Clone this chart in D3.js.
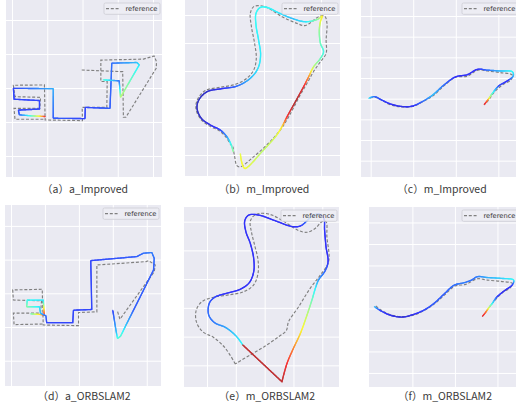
<!DOCTYPE html>
<html><head><meta charset="utf-8">
<script src="https://cdn.jsdelivr.net/npm/d3@7"></script>
<style>body{margin:0;background:#fff}svg{display:block}</style>
</head><body>
<svg id="chart" width="516" height="409"></svg>
<script>
// ---------- data ----------
const captions = ["（a）a_Improved","（b）m_Improved","（c）m_Improved","（d）a_ORBSLAM2","（e）m_ORBSLAM2","（f）m_ORBSLAM2"];
const legendLabel = "reference";

const ticks40 = [0,10,20,30,40];
const ticks50 = [0,10,20,30,40,50];
const ticks30 = [0,10,20,30];
const ticksF = [10,20,30];
const ticks35 = [0,5,10,15,20,25,30,35];

// (a) a_Improved
const refA = [[8.9,10.8],[0.85,10.8],[0.57,14.0],[7.9,14.0],[8.1,17.25],[0.85,17.45],[0.38,20.8],[9.2,20.9],[9.4,10.6],[20.0,10.4],[19.9,14.3],[26.9,14.3],[27.0,21.9],[25.2,21.9],[25.2,28.2],[37.3,28.5],[40.3,29.4],[41.0,27.7],[40.9,25.8],[32.3,11.4],[31.6,11.4],[31.4,24.8],[19.3,25.3]];
const estA = [[9.4,11.6],[7.8,11.7],[5.6,11.8],[2.1,12.1],[1.8,13.5],[7.8,13.8],[7.8,16.3],[0.6,16.7],[0.4,19.9],[11.7,19.8],[11.7,11.1],[20.7,11.0],[20.8,14.3],[27.8,14.0],[28.3,27.3],[35.4,27.5],[36.1,26.8],[30.8,17.3],[30.4,22.1],[25.9,22.4]];
const errA = [0.92,0.65,0.45,0.2,0.15,0.15,0.15,0.15,0.15,0.28,0.18,0.15,0.15,0.18,0.2,0.3,0.35,0.55,0.2,0.42];

// (b) m_Improved
const refB = [[9.1,3.0],[9.7,-0.6],[10.5,-3.8],[11.7,-4.2],[16.4,-0.6],[21.6,4.2],[25.7,8.9],[28.7,13.7],[32.7,21.4],[35.1,25.6],[37.4,29.8],[39.8,33.3],[41.8,36.3],[41.8,41.1],[42.1,47.0],[41.3,49.6],[39.2,49.4],[36.8,47.6],[34.3,46.2],[31.6,47.0],[26.3,49.4],[21.6,52.4],[18.7,53.3],[16.4,53.0],[15.2,50.6],[15.6,45.8],[16.7,39.9],[17.3,34.5],[16.4,30.4],[14.0,27.4],[9.9,25.2],[4.7,24.2],[-0.6,23.0],[-3.3,19.9],[-3.9,16.7],[-2.3,12.9],[0.8,10.4],[4.4,8.6],[6.8,6.2],[8.3,3.8],[9.1,3.0]];
const estB = [[11.7,0.4],[12.3,-3.0],[13.2,-4.8],[14.4,-4.2],[19.3,1.2],[24.0,6.5],[26.3,10.1],[28.1,13.7],[31.0,19.0],[33.9,24.4],[35.7,28.0],[37.4,31.5],[39.8,34.5],[40.9,36.9],[39.8,39.9],[39.4,44.6],[39.8,47.6],[40.4,49.6],[38.9,48.5],[34.5,47.6],[29.8,48.8],[25.1,50.8],[21.1,52.7],[18.7,52.7],[17.2,50.6],[17.2,46.4],[18.1,41.1],[18.8,35.7],[17.9,31.0],[15.2,27.4],[10.5,24.6],[5.3,23.7],[0.0,22.6],[-2.9,19.6],[-3.5,16.7],[-2.0,13.1],[1.2,10.7],[4.7,8.9],[7.0,6.5],[8.5,3.6],[9.2,1.2]];
const errB = [0.6,0.62,0.62,0.6,0.55,0.58,0.65,0.88,0.97,0.9,0.75,0.55,0.45,0.4,0.45,0.5,0.6,0.65,0.5,0.35,0.3,0.35,0.38,0.38,0.38,0.38,0.36,0.36,0.35,0.3,0.2,0.12,0.06,0.05,0.05,0.06,0.1,0.15,0.25,0.4,0.5];

// (c) m_Improved
const refC = [[-0.2,15.2],[1.2,15.3],[2.5,14.7],[4.7,13.5],[7.4,13.0],[9.8,13.1],[12.5,14.4],[14.9,15.9],[17.2,18.1],[20.0,20.2],[22.6,20.4],[25.2,21.9],[27.4,21.7],[30.5,21.3],[33.3,20.7],[32.9,19.5],[30.9,18.3],[29.0,16.5],[27.8,14.8],[26.9,13.7]];
const estC = [[-0.4,15.1],[0.9,15.5],[2.35,14.8],[4.7,13.7],[7.4,13.1],[9.8,13.2],[12.5,14.5],[14.7,16.0],[17.2,18.3],[20.0,20.3],[22.7,20.8],[25.1,22.1],[27.4,21.9],[30.5,21.7],[33.3,21.5],[33.5,20.5],[32.1,19.3],[30.1,18.1],[28.6,16.3],[27.8,15.1],[27.3,14.4],[26.7,13.6]];
const errC = [0.35,0.2,0.15,0.12,0.1,0.12,0.2,0.3,0.2,0.12,0.12,0.12,0.2,0.3,0.38,0.3,0.12,0.15,0.4,0.6,0.8,0.92];

// (d) a_ORBSLAM2
const refD = [[9.3,10.9],[0.9,10.7],[0.7,14.1],[8.7,14.1],[9.0,17.8],[0.7,18.0],[0.5,21.0],[9.2,21.2],[9.5,10.6],[19.9,10.4],[19.9,14.3],[25.3,14.5],[25.3,28.4],[39.8,29.4],[40.5,29.7],[42.5,28.4],[42.2,26.4],[32.1,12.3],[31.4,14.6]];
const estD = [[5.8,13.9],[9.0,13.7],[9.8,13.5],[9.5,18.0],[4.8,18.0],[4.6,16.0],[8.4,16.0],[8.7,14.1],[10.3,13.3],[10.5,11.3],[18.2,11.3],[18.4,15.0],[23.8,15.2],[23.5,29.7],[37.1,30.9],[39.0,31.9],[41.5,32.1],[42.2,30.4],[42.0,26.9],[36.1,15.0],[33.9,10.6],[32.3,7.3],[31.4,6.6],[31.0,8.6],[30.0,14.9]];
const errD = [0.45,0.7,0.9,0.35,0.38,0.48,0.35,0.3,0.2,0.15,0.15,0.15,0.15,0.15,0.18,0.2,0.22,0.2,0.18,0.18,0.3,0.42,0.42,0.3,0.15];

// (e) m_ORBSLAM2
const refE = [[9.8,0.5],[6.4,5.9],[2.3,9.7],[-1.5,11.7],[-3.7,15.2],[-3.7,19.3],[-1.7,22.2],[2.3,23.7],[7.5,24.5],[12.7,25.6],[16.2,28.0],[17.7,32.0],[17.7,36.7],[16.5,41.9],[15.4,46.5],[15.0,50.0],[16.2,52.0],[18.8,52.9],[22.5,52.3],[27.7,49.4],[31.8,46.9],[34.7,46.3],[37.6,47.7],[39.9,50.0],[41.3,50.0],[41.6,44.8],[42.2,36.1],[39.3,31.4],[35.8,26.8],[31.8,20.4],[28.3,15.2],[27.5,12.1],[24.9,10.0],[20.2,6.7],[15.0,3.6],[9.8,0.5]];
const estE = [[12.4,7.1],[10.1,10.2],[6.4,13.2],[2.7,14.8],[0.6,17.5],[0.8,21.6],[2.7,23.7],[6.9,25.1],[11.6,26.5],[14.7,28.8],[16.2,32.6],[16.2,37.2],[15.0,42.5],[13.5,46.5],[13.1,50.3],[14.5,52.3],[17.9,52.3],[23.7,50.3],[29.5,48.3],[32.4,48.5],[34.7,50.3],[36.2,51.7],[38.7,52.7],[40.5,51.2],[40.8,47.1],[41.3,41.3],[42.0,36.1],[41.0,32.9],[38.7,29.7],[37.6,26.8],[36.4,22.7],[34.7,17.5],[32.4,11.1],[29.7,5.3],[27.7,0.5],[26.0,-5.7]];
const errE = [0.38,0.33,0.27,0.22,0.2,0.18,0.15,0.12,0.12,0.12,0.12,0.12,0.12,0.12,0.12,0.12,0.12,0.12,0.12,0.13,0.2,0.28,0.2,0.15,0.13,0.12,0.12,0.18,0.25,0.35,0.45,0.55,0.65,0.78,0.88,0.95];
const jumpE = [[26.0,-5.7],[12.4,7.1]];
const jumpErrE = [0.95,0.95];

// (f) m_ORBSLAM2
const refF = [[1.4,15.6],[2.7,14.6],[4.9,13.5],[7.6,13.1],[9.8,13.3],[12.7,14.5],[15.1,16.0],[17.5,18.1],[20.0,20.2],[22.5,20.6],[25.3,21.9],[27.6,21.6],[30.8,21.3],[33.5,20.8],[33.1,19.9],[31.2,18.7],[29.6,17.1],[28.4,15.7],[27.0,13.8]];
const estF = [[1.1,15.4],[2.5,14.5],[4.9,13.4],[7.6,13.0],[9.6,13.4],[12.7,14.6],[15.1,16.2],[17.5,18.4],[19.8,20.4],[22.2,21.0],[23.9,21.6],[25.3,22.4],[27.6,22.2],[30.8,22.0],[33.8,21.6],[33.5,20.5],[31.6,19.1],[29.8,17.6],[28.8,16.2],[28.0,15.2],[27.3,14.2],[26.5,13.2]];
const errF = [0.3,0.15,0.1,0.08,0.1,0.15,0.18,0.18,0.2,0.22,0.2,0.22,0.28,0.32,0.38,0.15,0.1,0.15,0.35,0.55,0.78,0.92];

// ---------- layout ----------
const smooth = d3.curveCatmullRom.alpha(0.5);
const panels = [
 {id:"a", rect:[6,0,162,177],   xd:[-1.7,42.55], yd:[-6.18,45.88], xt:ticks40, yt:ticks40, ref:refA, est:[[estA,errA,d3.curveLinear]], refCurve:d3.curveLinear, cap:captions[0], cx:85,  cy:192.5},
 {id:"b", rect:[185,0,340,176], xd:[-7.72,46.67], yd:[-7.5,55.36], xt:ticks40, yt:ticks50, ref:refB, est:[[estB,errB,smooth]], refCurve:smooth, cap:captions[1], cx:264, cy:192.5},
 {id:"c", rect:[361,0,520,177], xd:[-2.27,35.08], yd:[-3.95,38.87], xt:ticks30, yt:ticks35, ref:refC, est:[[estC,errC,smooth]], refCurve:smooth, cap:captions[2], cx:442, cy:192.5},
 {id:"d", rect:[5,205,161,386], xd:[-1.77,44.2],  yd:[-7.5,46.2],   xt:ticks40, yt:ticks40, ref:refD, est:[[estD,errD,d3.curveLinear]], refCurve:d3.curveLinear, cap:captions[3], cx:84,  cy:399.5},
 {id:"e", rect:[184,207,339,387], xd:[-7.98,45.8], yd:[-7.54,55.1], xt:ticks40, yt:ticks50, ref:refE, est:[[estE,errE,smooth],[jumpE,jumpErrE,d3.curveLinear]], refCurve:smooth, cap:captions[4], cx:267, cy:399.5},
 {id:"f", rect:[369,207,520,387], xd:[-0.2,35.3],  yd:[-3.27,38.6], xt:ticksF, yt:ticks35, ref:refF, est:[[estF,errF,smooth]], refCurve:smooth, cap:captions[5], cx:445, cy:399.5}
];

const bg = d3.rgb("#EAEAF2");
function jet(t){
  t = Math.max(0, Math.min(1, t));
  const c = v => Math.max(0, Math.min(1, v));
  const r = c(1.5 - Math.abs(4*t - 3)), g = c(1.5 - Math.abs(4*t - 2)), b = c(1.5 - Math.abs(4*t - 1));
  const a = 0.78; // blend with axes background
  return d3.rgb(r*255*a + bg.r*(1-a), g*255*a + bg.g*(1-a), b*255*a + bg.b*(1-a)).formatHex();
}

const svg = d3.select("#chart");
const defs = svg.append("defs");

panels.forEach(p => {
  const [x0,y0,x1,y1] = p.rect;
  const x = d3.scaleLinear().domain(p.xd).range([x0,x1]);
  const y = d3.scaleLinear().domain(p.yd).range([y1,y0]);
  const g = svg.append("g");
  defs.append("clipPath").attr("id","clip"+p.id).append("rect")
    .attr("x",x0).attr("y",y0).attr("width",x1-x0).attr("height",y1-y0);

  g.append("rect").attr("x",x0).attr("y",y0).attr("width",x1-x0).attr("height",y1-y0).attr("fill","#EAEAF2");

  const gx = g.append("g").attr("transform",`translate(0,${y1})`)
    .call(d3.axisBottom(x).tickValues(p.xt).tickSize(-(y1-y0)).tickFormat(""));
  const gy = g.append("g").attr("transform",`translate(${x0},0)`)
    .call(d3.axisLeft(y).tickValues(p.yt).tickSize(-(x1-x0)).tickFormat(""));
  [gx,gy].forEach(a => { a.select(".domain").remove(); a.selectAll("line").attr("stroke","#ffffff").attr("stroke-width",1); a.selectAll("text").remove(); });

  const plot = g.append("g").attr("clip-path",`url(#clip${p.id})`);

  const refLine = d3.line().x(d=>x(d[0])).y(d=>y(d[1])).curve(p.refCurve);
  plot.append("path").attr("d",refLine(p.ref)).attr("fill","none")
    .attr("stroke","#808080").attr("stroke-width",1.15).attr("stroke-dasharray","3,1.8");

  p.est.forEach(([pts, errs, curve]) => {
    const line = d3.line().x(d=>x(d[0])).y(d=>y(d[1])).curve(curve);
    const tmp = plot.append("path").attr("d",line(pts)).attr("fill","none").attr("stroke","none");
    const node = tmp.node();
    const total = node.getTotalLength();
    const cum = [0];
    for (let i=1;i<pts.length;i++){
      cum.push(cum[i-1] + Math.hypot(x(pts[i][0])-x(pts[i-1][0]), y(pts[i][1])-y(pts[i-1][1])));
    }
    const k = total / cum[cum.length-1];
    const N = Math.max(2, Math.ceil(total/1.0));
    const segs = [];
    let prev = node.getPointAtLength(0);
    let idx = 0;
    for (let s=1;s<=N;s++){
      const L = total*s/N;
      const pt = node.getPointAtLength(L);
      const m = (L - 0.5*total/N)/k;
      while (idx < cum.length-2 && m > cum[idx+1]) idx++;
      const span = cum[idx+1]-cum[idx] || 1;
      const t = Math.max(0, Math.min(1,(m-cum[idx])/span));
      const e = errs[idx] + (errs[idx+1]-errs[idx])*t;
      segs.push({x1:prev.x,y1:prev.y,x2:pt.x,y2:pt.y,c:jet(e)});
      prev = pt;
    }
    tmp.remove();
    plot.append("g").selectAll("line").data(segs).join("line")
      .attr("x1",d=>d.x1).attr("y1",d=>d.y1).attr("x2",d=>d.x2).attr("y2",d=>d.y2)
      .attr("stroke",d=>d.c).attr("stroke-width",1.35).attr("stroke-linecap","round");
  });

  // legend
  const lw = 56, lh = 11.3;
  const lx = x1 - 2 - lw, ly = y0 + 3;
  const lg = g.append("g");
  lg.append("rect").attr("x",lx).attr("y",ly).attr("width",lw).attr("height",lh).attr("rx",1.5)
    .attr("fill","#EEEEF4").attr("fill-opacity",0.82).attr("stroke","#cdcdd4").attr("stroke-width",0.8);
  lg.append("line").attr("x1",lx+2).attr("x2",lx+15.5).attr("y1",ly+lh/2).attr("y2",ly+lh/2)
    .attr("stroke","#808080").attr("stroke-width",1.15).attr("stroke-dasharray","3,1.8");
  lg.append("text").attr("x",lx+21.5).attr("y",ly+lh/2+2.4).text(legendLabel)
    .attr("font-family","DejaVu Sans, sans-serif").attr("font-size",6.7).attr("fill","#333");

  svg.append("text").attr("x",p.cx).attr("y",p.cy).attr("text-anchor","middle")
    .attr("font-family","'Noto Sans CJK SC', 'Noto Sans', sans-serif").attr("font-size",10.5)
    .attr("fill","#3a3a3a").text(p.cap);
});
</script>
</body></html>
